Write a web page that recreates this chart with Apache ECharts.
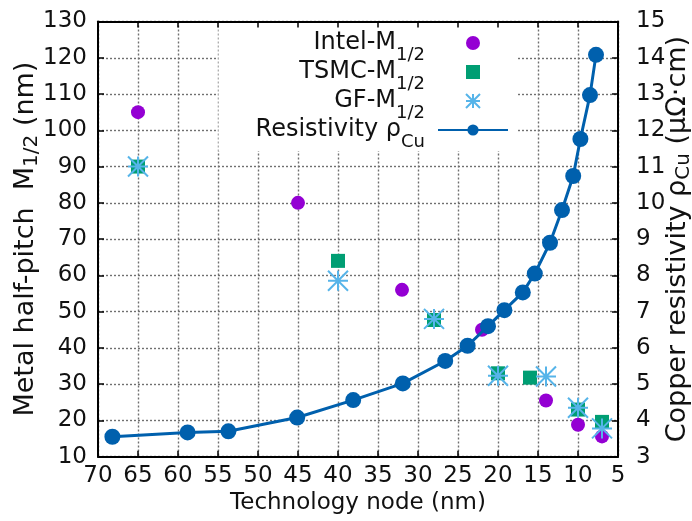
<!DOCTYPE html>
<html><head><meta charset="utf-8">
<script src="https://cdn.jsdelivr.net/npm/echarts@6/dist/echarts.min.js"></script>
<style>html,body{margin:0;padding:0;background:#fff}#c{width:692px;height:521px}</style>
</head><body><div id="c"></div>
<script>
// ---- data ----
const intelNodes = [65, 45, 32, 22, 14, 10, 7];
const intelM     = [105, 80, 56, 45, 25.5, 18.8, 15.6];
const tsmcNodes  = [65, 40, 28, 20, 16, 10, 7];
const tsmcM      = [90, 64, 47.7, 33, 31.8, 23, 19.6];
const gfNodes    = [65, 40, 28, 20, 14, 10, 7];
const gfM        = [90, 58.5, 48, 32.3, 32.1, 23.5, 17.8];
const rhoNodes   = [68.2, 58.8, 53.7, 45.1, 38.1, 31.9, 26.6, 23.8, 21.25, 19.2, 16.9, 15.4, 13.5, 12.0, 10.6, 9.7, 8.5, 7.75];
const rhoVals    = [3.55, 3.67, 3.70, 4.08, 4.56, 5.02, 5.64, 6.06, 6.60, 7.04, 7.53, 8.05, 8.90, 9.80, 10.74, 11.76, 12.97, 14.08];
const seriesNames = ['Intel', 'TSMC', 'GF', 'Resistivity'];

const pairs = (xs, ys) => xs.map((x, i) => [x, ys[i]]);
const FONT = 'DejaVu Sans';
const TXT = '#111';
const legendRich = {
  m: {fontSize: 24, fontFamily: FONT, color: TXT, lineHeight: 24, verticalAlign: 'top'},
  s: {fontSize: 18, fontFamily: FONT, color: TXT, lineHeight: 18, verticalAlign: 'top', padding: [15, 0, 0, 0]}
};
const nameRich = {
  m: {fontSize: 27, fontFamily: FONT, color: TXT, lineHeight: 27, verticalAlign: 'top'},
  s: {fontSize: 20, fontFamily: FONT, color: TXT, lineHeight: 20, verticalAlign: 'top', padding: [10, 0, 0, 0]}
};
const legendLabels = {
  'Intel': '{m|Intel-M}{s|1/2}',
  'TSMC': '{m|TSMC-M}{s|1/2}',
  'GF': '{m|GF-M}{s|1/2}',
  'Resistivity': '{m|Resistivity ρ}{s|Cu}'
};
const axisLineStyle = {color: '#000', width: 2};
const tickStyle = {color: '#000', width: 1.5};
const gridLine = {show: true, lineStyle: {type: [2, 2], color: '#707070', width: 1.4}};
const labelStyle = {fontSize: 23, fontFamily: FONT, color: TXT};

const chart = echarts.init(document.getElementById('c'));
chart.setOption({
  animation: false,
  backgroundColor: '#fff',
  grid: {left: 98, right: 74, top: 21.5, bottom: 64.3, containLabel: false, outerBoundsMode: 'none'},
  legend: {
    orient: 'vertical', align: 'right', right: 175, top: 22,
    padding: [9, 8, 0, 37], itemGap: -4, itemWidth: 70, itemHeight: 14,
    backgroundColor: '#fff',
    data: [
      {name: 'Intel'},
      {name: 'TSMC', icon: 'path://M0,0L1,0L1,1L0,1Z'},
      {name: 'GF'},
      {name: 'Resistivity'}
    ],
    formatter: n => legendLabels[n],
    textStyle: {fontSize: 24, fontFamily: FONT, color: TXT, rich: legendRich, padding: [0, 8, 0, 0]}
  },
  xAxis: [{
    type: 'value', min: 5, max: 70, interval: 5, inverse: true, position: 'bottom',
    axisLine: {lineStyle: axisLineStyle}, axisTick: {inside: true, length: 6, lineStyle: tickStyle},
    axisLabel: Object.assign({margin: 8}, labelStyle),
    splitLine: gridLine,
    name: 'Technology node (nm)', nameLocation: 'middle', nameGap: 35, nameMoveOverlap: false,
    nameTextStyle: {fontSize: 23, fontFamily: FONT, color: TXT}
  }, {
    type: 'value', min: 5, max: 70, interval: 5, inverse: true, position: 'top', z: 6,
    axisLine: {lineStyle: axisLineStyle}, axisTick: {inside: true, length: 6, lineStyle: tickStyle},
    axisLabel: {show: false}, splitLine: {show: false}
  }],
  yAxis: [{
    type: 'value', min: 10, max: 130, interval: 10, position: 'left',
    axisLine: {lineStyle: axisLineStyle}, axisTick: {inside: true, length: 6, lineStyle: tickStyle},
    axisLabel: Object.assign({margin: 11}, labelStyle),
    splitLine: gridLine,
    name: '{m|Metal half-pitch  M}{s|1/2}{m| (nm)}', nameLocation: 'middle', nameGap: 59, nameMoveOverlap: false,
    nameTextStyle: {rich: nameRich}
  }, {
    type: 'value', min: 3, max: 15, interval: 1, position: 'right', z: 6,
    axisLine: {lineStyle: axisLineStyle}, axisTick: {inside: true, length: 6, lineStyle: tickStyle},
    axisLabel: Object.assign({margin: 18}, labelStyle),
    splitLine: {show: false},
    name: '{m|Copper resistivity ρ}{s|Cu}{m| (μΩ·cm)}', nameLocation: 'middle', nameGap: 46, nameMoveOverlap: false,
    nameTextStyle: {rich: nameRich}
  }],
  series: [{
    name: 'Intel', type: 'scatter', xAxisIndex: 0, yAxisIndex: 0,
    symbol: 'circle', symbolSize: 14, itemStyle: {color: '#9400D3', opacity: 1},
    data: pairs(intelNodes, intelM)
  }, {
    name: 'TSMC', type: 'scatter', xAxisIndex: 0, yAxisIndex: 0,
    symbol: 'rect', symbolSize: 14, itemStyle: {color: '#009E73', opacity: 1},
    data: pairs(tsmcNodes, tsmcM)
  }, {
    name: 'GF', type: 'scatter', xAxisIndex: 0, yAxisIndex: 0,
    symbol: 'path://M0,-1L0,1M-1,0L1,0M-1,-1L1,1M-1,1L1,-1', symbolSize: 20,
    itemStyle: {color: 'rgba(0,0,0,0)', borderColor: '#56B4E9', borderWidth: 2, opacity: 1},
    data: pairs(gfNodes, gfM)
  }, {
    name: 'Resistivity', type: 'line', xAxisIndex: 0, yAxisIndex: 1,
    symbol: 'circle', symbolSize: 16, showSymbol: true,
    lineStyle: {color: '#0060AD', width: 3}, itemStyle: {color: '#0060AD'},
    data: pairs(rhoNodes, rhoVals)
  }]
});
</script></body></html>
